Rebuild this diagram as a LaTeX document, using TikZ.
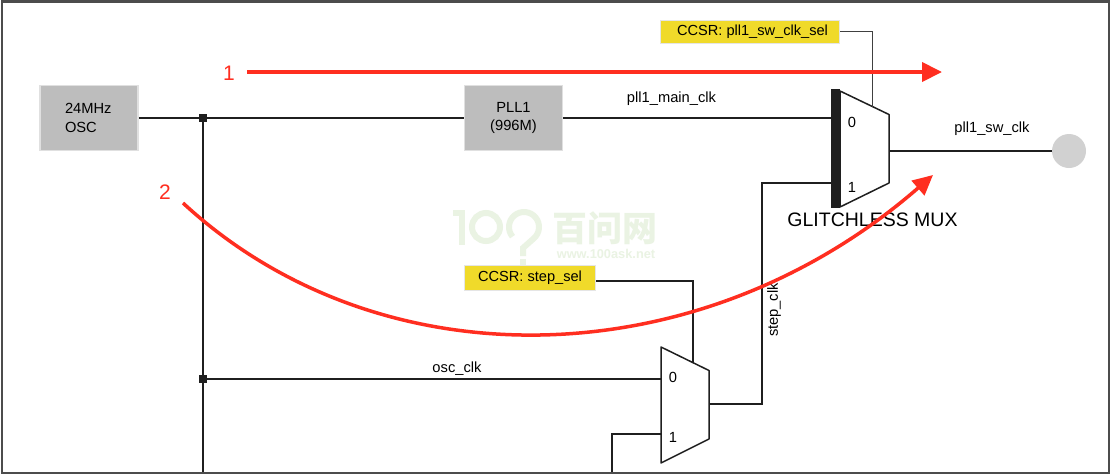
\documentclass[tikz,border=0pt]{standalone}
\usepackage{fontspec}
\setmainfont{Liberation Sans}
\newfontfamily\cjk{Noto Sans CJK SC}
\usetikzlibrary{arrows.meta}
\definecolor{boxgray}{HTML}{BDBDBD}
\definecolor{ccsryellow}{HTML}{F0DA2A}
\definecolor{redline}{HTML}{FF2E20}
\definecolor{marklight}{HTML}{EAF3E3}
\tikzset{
	sig/.style={line width=1.5pt,color=black!88},
	seltrace/.style={line width=1pt,color=black!75},
	clkbox/.style={rectangle,draw=black!12,line width=1.5pt,fill=boxgray,minimum width=98pt,minimum height=65pt,inner sep=0pt,font=\fontsize{14.7}{18.5}\selectfont,align=left},
	ccsrbox/.style={rectangle,draw=black!10,line width=1pt,fill=ccsryellow,minimum height=23pt,inner sep=0pt,font=\fontsize{14.6}{17}\selectfont},
	clklabel/.style={font=\fontsize{14.7}{17}\selectfont,inner sep=0pt},
	junction/.style={rectangle,fill=black!88,minimum size=8pt,inner sep=0pt},
	redarrow/.style={line width=3.5pt,color=redline,-{Triangle[length=20pt,width=19pt]}},
	rednum/.style={font=\fontsize{21}{25}\selectfont,text=redline,inner sep=0pt},
}
\begin{document}
\begin{tikzpicture}[x=1pt,y=-1pt]
	\useasboundingbox (0,0) rectangle (1111,475);
	\fill[white] (0,0) rectangle (1111,475);
	\draw[line width=2.5pt,color=black!70] (2,1.5) rectangle (1109,473);
	% watermark
	\begin{scope}[line width=6pt,color=marklight]
		\draw (453,213) -- (462,213) -- (462,245);
		\draw (486,227) circle[radius=14];
		\draw (524,227) ++(140:15) arc[start angle=140,end angle=410,radius=15] -- (523,248) -- (523,256);
		\draw (523,259) -- (523,265);
	\end{scope}
	\node[text=marklight,font=\cjk\bfseries\fontsize{35}{35}\selectfont,inner sep=0pt] (wmcn) at (605,228) {百问网};
	\node[text=marklight,font=\bfseries\fontsize{12.8}{15}\selectfont,inner sep=0pt] (wmurl) at (606,254) {www.100ask.net};
	% clock blocks
	\node[clkbox,text width=48pt] (osc) at (89,118) {\raisebox{-2.5pt}{24MHz}\\\raisebox{-2.5pt}{OSC}};
	\node[clkbox,align=center] (pll) at (513.5,118) {\raisebox{2pt}{PLL1}\\\raisebox{2pt}{(996M)}};
	\node[ccsrbox,minimum width=179pt] (swsel) at (750,31.5) {\hspace{5pt}CCSR: pll1\_sw\_clk\_sel};
	\node[ccsrbox,minimum width=131pt,minimum height=25pt] (stepsel) at (530,277.5) {CCSR: step\_sel};
	\node[circle,fill=black!18,minimum size=34pt,inner sep=0pt] (out) at (1069,151) {};
	\node[junction] (j1) at (203,118) {};
	\node[junction] (j2) at (203,379) {};
	% muxes
	\draw[sig,fill=white,line join=round] (840,91) -- (889,114.5) -- (889,183) -- (840,207) -- cycle;
	\draw[sig,fill=white,line join=round] (661,347) -- (709,370.5) -- (709,439) -- (661,463) -- cycle;
	\fill[black!88] (831,89) rectangle (840,208);
	\coordinate (m1in0) at (831,118);
	\coordinate (m1in1) at (831,183);
	\coordinate (m1out) at (889,151);
	\coordinate (m1sel) at (872.5,106.5);
	\coordinate (m2in0) at (661,379);
	\coordinate (m2in1) at (661,434);
	\coordinate (m2out) at (709,404);
	\coordinate (m2sel) at (693,362.5);
	\coordinate (bus) at (203,472);
	\coordinate (in1foot) at (612,472);
	\foreach \X/\Y/\T in {852/122/0,852/187/1,673/377/0,673/437/1}
		{\node[clklabel] (d\X\T) at (\X,\Y) {\T};}
	\node[font=\fontsize{19.5}{22}\selectfont,inner sep=0pt] (muxname) at (872.5,220) {GLITCHLESS MUX};
	% connectors
	\draw[sig] (osc.east) -- (j1) -- (pll.west);
	\draw[sig] (pll.east) -- (m1in0);
	\draw[sig] (m1out) -- (out.west);
	\draw[sig] (j1) -- (j2) -- (bus);
	\draw[sig] (j2) -- (m2in0);
	\draw[sig] (m2out) -| (762,183) -- (m1in1);
	\draw[sig] (in1foot) |- (m2in1);
	\draw[seltrace] (swsel.east) -| (m1sel);
	\draw[sig] (stepsel.east |- 0,281) -| (m2sel);
	% signal names
	\node[clklabel] (mainlbl) at (671.5,98.5) {pll1\_main\_clk};
	\node[clklabel] (swlbl) at (992,128.5) {pll1\_sw\_clk};
	\node[clklabel] (osclbl) at (457,368.5) {osc\_clk};
	\node[clklabel,rotate=90] (steplbl) at (774,310) {step\_clk};
	% red paths
	\coordinate (r1a) at (247,72);
	\coordinate (r1b) at (942,72);
	\coordinate (r2a) at (183,203);
	\coordinate (r2b) at (933,175);
	\draw[redarrow,line width=4pt] (r1a) -- (r1b);
	\draw[redarrow] (r2a) .. controls (380,385) and (700,378) .. (r2b);
	\node[rednum] (n1) at (229,73) {1};
	\node[rednum] (n2) at (165,192) {2};
\end{tikzpicture}
\end{document}
